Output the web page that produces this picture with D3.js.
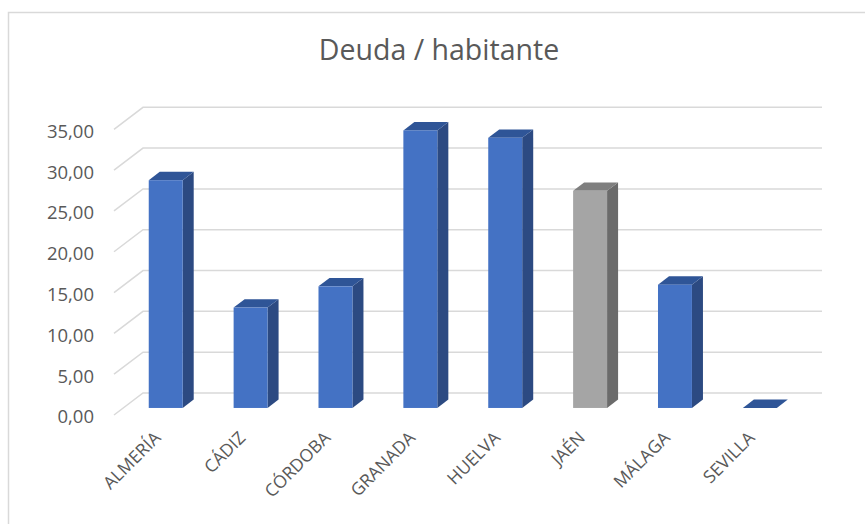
<!DOCTYPE html>
<html>
<head>
<meta charset="utf-8">
<script src="https://cdn.jsdelivr.net/npm/d3@7"></script>
<style>
  body { margin: 0; background: #fff; }
  text { font-family: "Open Sans", sans-serif; fill: #595959; }
</style>
</head>
<body>
<svg id="chart"></svg>
<script>
// data
var provincias = ["ALMERÍA", "CÁDIZ", "CÓRDOBA", "GRANADA", "HUELVA", "JAÉN", "MÁLAGA", "SEVILLA"];
var deuda = [27.9, 12.3, 14.9, 34.0, 33.1, 26.6, 15.1, 0];
var yTicks = [0, 5, 10, 15, 20, 25, 30, 35];
var destacada = "JAÉN"; // drawn in grey

var svgWidth = 865, svgHeight = 524;

var svg = d3.select("#chart")
  .attr("width", svgWidth)
  .attr("height", svgHeight);

// chart frame
svg.append("rect")
  .attr("x", 8.5).attr("y", 12.5)
  .attr("width", 880).attr("height", 530)
  .attr("fill", "none")
  .attr("stroke", "#d9d9d9")
  .attr("stroke-width", 1.5);

svg.append("text")
  .attr("x", 439).attr("y", 60)
  .style("text-anchor", "middle")
  .style("font-size", "28.5px")
  .text("Deuda / habitante");

// oblique 3d: front plane scales + a depth vector
var depthX = 29, depthY = -22;
var barD0 = 0.32, barD1 = 0.70;

var x = d3.scaleBand()
  .domain(provincias)
  .range([114, 793])
  .paddingInner(0.6)
  .paddingOuter(0.3);

var y = d3.scaleLinear()
  .domain([0, 35])
  .range([415, 129.3]);

function px(xv, d) { return xv + depthX * d; }
function py(yv, d) { return yv + depthY * d; }

// gridlines: side wall diagonal + back wall
var grid = svg.append("g").attr("stroke", "#d9d9d9").attr("stroke-width", 1.5).attr("fill", "none");
yTicks.forEach(function(t) {
  grid.append("path")
    .attr("d", d3.line()([
      [114, y(t)],
      [px(114, 1), py(y(t), 1)],
      [px(793, 1), py(y(t), 1)]
    ]));
});

// y axis labels
svg.append("g").selectAll("text")
  .data(yTicks)
  .enter().append("text")
  .attr("x", 94)
  .attr("y", d => y(d) + 2)
  .attr("dy", "0.35em")
  .style("text-anchor", "end")
  .style("font-size", "18.5px")
  .text(d => d3.format(".2f")(d).replace(".", ","));

// bars
var colors = {
  normal: { front: "#4472c4", side: "#2c4a82", top: "#2f5597" },
  grey:   { front: "#a5a5a5", side: "#6b6b6b", top: "#7f7f7f" }
};

var bars = svg.append("g");
provincias.forEach(function(p, i) {
  var c = p === destacada ? colors.grey : colors.normal;
  var x0 = px(x(p), barD0), x1 = px(x(p) + x.bandwidth(), barD0);
  var yb = py(y(0), barD0), yt = py(y(deuda[i]), barD0);
  var dx = depthX * (barD1 - barD0), dy = depthY * (barD1 - barD0);
  var g = bars.append("g");
  g.append("polygon")
    .attr("points", [[x1, yb], [x1 + dx, yb + dy], [x1 + dx, yt + dy], [x1, yt]].join(" "))
    .attr("fill", c.side);
  g.append("polygon")
    .attr("points", [[x0, yt], [x0 + dx, yt + dy], [x1 + dx, yt + dy], [x1, yt]].join(" "))
    .attr("fill", c.top);
  g.append("rect")
    .attr("x", x0).attr("y", yt)
    .attr("width", x1 - x0).attr("height", yb - yt)
    .attr("fill", c.front);
});

// category labels
svg.append("g").selectAll("text")
  .data(provincias)
  .enter().append("text")
  .attr("transform", d => "translate(" + (px(x(d) + x.bandwidth() / 2, barD0) - 4) + ",439) rotate(-45)")
  .style("text-anchor", "end")
  .style("font-size", "17.5px")
  .text(d => d);
</script>
</body>
</html>
